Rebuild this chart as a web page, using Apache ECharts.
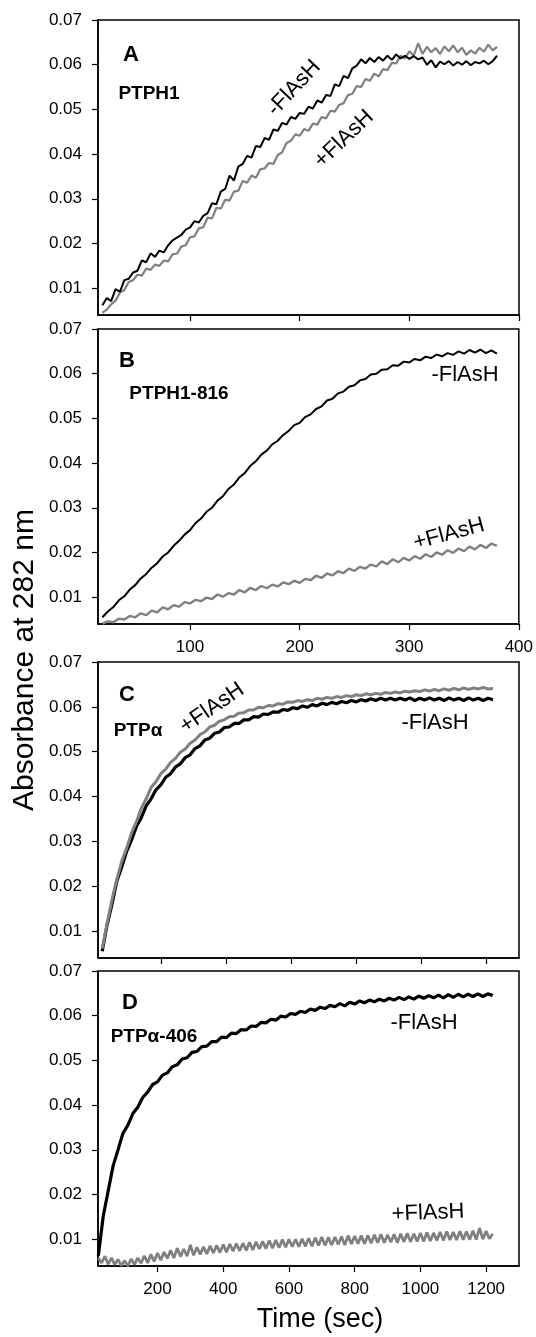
<!DOCTYPE html>
<html><head><meta charset="utf-8">
<script src="https://cdn.jsdelivr.net/npm/echarts@6/dist/echarts.min.js"></script>
<style>html,body{margin:0;padding:0;background:#fff}#c{width:536px;height:1337px}</style>
</head><body><div id="c"></div>
<script>
// ---------- data ----------
const yTicks = [0.01, 0.02, 0.03, 0.04, 0.05, 0.06, 0.07];
const xTicksAB = [100, 200, 300, 400];
const xTicksCD = [200, 400, 600, 800, 1000, 1200];

// Panel A  (PTPH1)
const timeA = [20,24,28,32,36,40,44,48,52,56,
  60,64,68,72,76,80,84,88,92,96,
  100,104,108,112,116,120,124,128,132,136,
  140,144,148,152,156,160,164,168,172,176,
  180,184,188,192,196,200,204,208,212,216,
  220,224,228,232,236,240,244,248,252,256,
  260,264,268,272,276,280,284,288,292,296,
  300,304,308,312,316,320,324,328,332,336,
  340,344,348,352,356,360,364,368,372,376,
  380];
const aMinusFlAsH = [0.0062,0.0078,0.0071,0.0098,0.0092,0.0118,0.0121,0.0135,0.0139,0.0162,
  0.0158,0.0178,0.0170,0.0184,0.0180,0.0196,0.0207,0.0213,0.0219,0.0231,
  0.0236,0.0250,0.0247,0.0262,0.0268,0.0290,0.0288,0.0316,0.0322,0.0352,
  0.0341,0.0372,0.0378,0.0396,0.0392,0.0418,0.0416,0.0436,0.0432,0.0455,
  0.0452,0.0470,0.0466,0.0483,0.0479,0.0492,0.0490,0.0506,0.0502,0.0520,
  0.0515,0.0532,0.0530,0.0556,0.0552,0.0575,0.0570,0.0592,0.0598,0.0612,
  0.0603,0.0615,0.0606,0.0617,0.0609,0.0620,0.0611,0.0623,0.0614,0.0620,
  0.0613,0.0619,0.0612,0.0616,0.0600,0.0610,0.0594,0.0607,0.0601,0.0608,
  0.0598,0.0606,0.0600,0.0608,0.0599,0.0606,0.0603,0.0609,0.0601,0.0608,
  0.0620];
const aPlusFlAsH = [0.0045,0.0052,0.0064,0.0072,0.0090,0.0096,0.0114,0.0118,0.0130,0.0128,
  0.0144,0.0141,0.0153,0.0150,0.0162,0.0160,0.0176,0.0177,0.0193,0.0196,
  0.0214,0.0216,0.0234,0.0236,0.0258,0.0256,0.0280,0.0278,0.0298,0.0296,
  0.0316,0.0318,0.0340,0.0336,0.0352,0.0347,0.0366,0.0368,0.0380,0.0378,
  0.0398,0.0404,0.0425,0.0430,0.0444,0.0441,0.0456,0.0452,0.0468,0.0466,
  0.0483,0.0480,0.0497,0.0495,0.0510,0.0514,0.0532,0.0535,0.0552,0.0550,
  0.0568,0.0564,0.0580,0.0574,0.0590,0.0588,0.0604,0.0603,0.0620,0.0614,
  0.0630,0.0620,0.0648,0.0624,0.0640,0.0628,0.0637,0.0624,0.0641,0.0630,
  0.0643,0.0628,0.0638,0.0622,0.0632,0.0625,0.0638,0.0629,0.0645,0.0632,
  0.0640];

// Panel B  (PTPH1-816)
const timeB = [20,25,30,35,40,45,50,55,60,65,
  70,75,80,85,90,95,100,105,110,115,
  120,125,130,135,140,145,150,155,160,165,
  170,175,180,185,190,195,200,205,210,215,
  220,225,230,235,240,245,250,255,260,265,
  270,275,280,285,290,295,300,305,310,315,
  320,325,330,335,340,345,350,355,360,365,
  370,375,380];
const bMinusFlAsH = [0.0055,0.0068,0.0078,0.0093,0.0102,0.0117,0.0127,0.0142,0.0152,0.0166,
  0.0176,0.0191,0.0200,0.0215,0.0226,0.0240,0.0250,0.0266,0.0276,0.0291,
  0.0300,0.0316,0.0326,0.0342,0.0352,0.0368,0.0378,0.0394,0.0404,0.0419,
  0.0428,0.0442,0.0450,0.0463,0.0472,0.0485,0.0490,0.0503,0.0509,0.0521,
  0.0527,0.0540,0.0544,0.0556,0.0560,0.0571,0.0574,0.0585,0.0588,0.0598,
  0.0600,0.0609,0.0610,0.0619,0.0618,0.0627,0.0625,0.0633,0.0630,0.0638,
  0.0635,0.0643,0.0639,0.0646,0.0642,0.0650,0.0645,0.0653,0.0647,0.0654,
  0.0646,0.0652,0.0645];
const bPlusFlAsH = [0.0041,0.0046,0.0044,0.0052,0.0050,0.0058,0.0055,0.0064,0.0060,0.0070,
  0.0066,0.0077,0.0073,0.0082,0.0079,0.0089,0.0086,0.0094,0.0091,0.0099,
  0.0096,0.0106,0.0101,0.0109,0.0106,0.0116,0.0111,0.0121,0.0116,0.0125,
  0.0120,0.0128,0.0124,0.0133,0.0129,0.0137,0.0132,0.0141,0.0138,0.0148,
  0.0143,0.0153,0.0149,0.0158,0.0154,0.0164,0.0159,0.0168,0.0164,0.0173,
  0.0169,0.0180,0.0174,0.0185,0.0178,0.0188,0.0182,0.0192,0.0186,0.0196,
  0.0190,0.0200,0.0195,0.0205,0.0199,0.0209,0.0203,0.0213,0.0207,0.0217,
  0.0210,0.0220,0.0215];

// Panels C and D (shared 15 s grid)
const timeCD = [20,35,50,65,80,95,110,125,140,155,
  170,185,200,215,230,245,260,275,290,305,
  320,335,350,365,380,395,410,425,440,455,
  470,485,500,515,530,545,560,575,590,605,
  620,635,650,665,680,695,710,725,740,755,
  770,785,800,815,830,845,860,875,890,905,
  920,935,950,965,980,995,1010,1025,1040,1055,
  1070,1085,1100,1115,1130,1145,1160,1175,1190,1205,
  1220];
const cMinusFlAsH = [0.0055,0.0114,0.0160,0.0212,0.0243,0.0278,0.0303,0.0333,0.0353,0.0379,
  0.0395,0.0415,0.0426,0.0443,0.0451,0.0466,0.0473,0.0487,0.0493,0.0507,
  0.0513,0.0526,0.0530,0.0541,0.0544,0.0554,0.0555,0.0563,0.0563,0.0571,
  0.0571,0.0578,0.0577,0.0584,0.0583,0.0589,0.0588,0.0594,0.0592,0.0598,
  0.0596,0.0602,0.0599,0.0605,0.0602,0.0608,0.0605,0.0610,0.0607,0.0612,
  0.0609,0.0614,0.0611,0.0616,0.0613,0.0618,0.0614,0.0619,0.0615,0.0619,
  0.0615,0.0619,0.0615,0.0620,0.0614,0.0619,0.0615,0.0620,0.0615,0.0619,
  0.0614,0.0620,0.0615,0.0619,0.0614,0.0620,0.0615,0.0619,0.0614,0.0619,
  0.0616];
const cPlusFlAsH = [0.0061,0.0117,0.0170,0.0216,0.0256,0.0285,0.0319,0.0344,0.0374,0.0395,
  0.0420,0.0433,0.0451,0.0461,0.0476,0.0485,0.0499,0.0506,0.0519,0.0526,
  0.0538,0.0544,0.0555,0.0559,0.0568,0.0571,0.0578,0.0579,0.0586,0.0587,
  0.0593,0.0593,0.0599,0.0598,0.0603,0.0602,0.0607,0.0606,0.0611,0.0610,
  0.0614,0.0612,0.0616,0.0614,0.0619,0.0617,0.0621,0.0619,0.0623,0.0621,
  0.0625,0.0623,0.0627,0.0625,0.0629,0.0627,0.0630,0.0628,0.0632,0.0630,
  0.0633,0.0631,0.0635,0.0633,0.0636,0.0634,0.0638,0.0635,0.0639,0.0636,
  0.0640,0.0637,0.0641,0.0638,0.0642,0.0639,0.0642,0.0640,0.0643,0.0640,
  0.0641];
const dMinusFlAsH = [0.0063,0.0152,0.0208,0.0264,0.0300,0.0337,0.0355,0.0381,0.0395,0.0417,
  0.0429,0.0446,0.0452,0.0467,0.0472,0.0486,0.0490,0.0503,0.0506,0.0518,
  0.0520,0.0531,0.0532,0.0542,0.0542,0.0552,0.0551,0.0561,0.0560,0.0569,
  0.0568,0.0577,0.0576,0.0585,0.0584,0.0592,0.0590,0.0599,0.0597,0.0605,
  0.0603,0.0610,0.0607,0.0615,0.0612,0.0619,0.0616,0.0623,0.0620,0.0627,
  0.0622,0.0630,0.0626,0.0633,0.0629,0.0635,0.0631,0.0637,0.0633,0.0639,
  0.0635,0.0641,0.0636,0.0642,0.0637,0.0644,0.0639,0.0645,0.0640,0.0646,
  0.0640,0.0647,0.0641,0.0648,0.0642,0.0648,0.0643,0.0649,0.0643,0.0649,
  0.0645];

// Panel D +FlAsH (10 s grid)
const timeDplus = [20,30,40,50,60,70,80,90,100,110,
  120,130,140,150,160,170,180,190,200,210,
  220,230,240,250,260,270,280,290,300,310,
  320,330,340,350,360,370,380,390,400,410,
  420,430,440,450,460,470,480,490,500,510,
  520,530,540,550,560,570,580,590,600,610,
  620,630,640,650,660,670,680,690,700,710,
  720,730,740,750,760,770,780,790,800,810,
  820,830,840,850,860,870,880,890,900,910,
  920,930,940,950,960,970,980,990,1000,1010,
  1020,1030,1040,1050,1060,1070,1080,1090,1100,1110,
  1120,1130,1140,1150,1160,1170,1180,1190,1200,1210,
  1220];
const dPlusFlAsH = [0.0058,0.0047,0.0062,0.0044,0.0058,0.0043,0.0055,0.0041,0.0052,0.0040,
  0.0056,0.0043,0.0058,0.0046,0.0063,0.0047,0.0066,0.0050,0.0069,0.0053,
  0.0071,0.0057,0.0075,0.0058,0.0080,0.0061,0.0078,0.0062,0.0087,0.0064,
  0.0082,0.0066,0.0083,0.0067,0.0085,0.0069,0.0086,0.0070,0.0088,0.0071,
  0.0089,0.0073,0.0090,0.0074,0.0091,0.0075,0.0093,0.0076,0.0094,0.0078,
  0.0095,0.0079,0.0097,0.0080,0.0098,0.0081,0.0099,0.0082,0.0100,0.0083,
  0.0100,0.0083,0.0101,0.0084,0.0102,0.0084,0.0103,0.0086,0.0105,0.0086,
  0.0104,0.0087,0.0105,0.0088,0.0106,0.0087,0.0108,0.0089,0.0107,0.0090,
  0.0108,0.0090,0.0109,0.0091,0.0110,0.0092,0.0111,0.0092,0.0110,0.0093,
  0.0111,0.0092,0.0112,0.0094,0.0113,0.0094,0.0112,0.0095,0.0114,0.0095,
  0.0115,0.0096,0.0114,0.0097,0.0116,0.0097,0.0117,0.0098,0.0116,0.0098,
  0.0118,0.0099,0.0117,0.0099,0.0119,0.0099,0.0125,0.0100,0.0118,0.0101,
  0.0112];

// ---------- chart ----------
const FONT = '"Liberation Sans", Arial, Helvetica, sans-serif';
const BLACK = '#000000', GRAY = '#808080';
const zip = (t, v) => t.map((x, i) => [x, v[i]]);

const panels = [
  {top: 20,  height: 295, xmin: 16, xmax: 400,  xt: xTicksAB, xl: false},
  {top: 329, height: 295, xmin: 16, xmax: 400,  xt: xTicksAB, xl: true},
  {top: 662, height: 296, xmin: 7,  xmax: 1300, xt: xTicksCD, xl: false},
  {top: 971, height: 295, xmin: 19, xmax: 1300, xt: xTicksCD, xl: true}
];

const grid = panels.map(p => ({
  left: 98, right: 17, top: p.top, height: p.height,
  show: true, borderColor: BLACK, borderWidth: 1.5, backgroundColor: 'transparent'
}));
const xAxis = panels.map((p, i) => ({
  gridIndex: i, type: 'value', min: p.xmin, max: p.xmax,
  axisLine: {show: true, onZero: false, lineStyle: {color: BLACK, width: 1.5}},
  axisTick: {show: true, inside: false, length: 6, customValues: p.xt, lineStyle: {color: BLACK, width: 1.2}},
  axisLabel: {show: p.xl, customValues: p.xt, margin: 15, fontSize: 17, color: BLACK, fontFamily: FONT,
    hideOverlap: false, formatter: v => String(v)},
  splitLine: {show: false}
}));
const yAxis = panels.map((p, i) => ({
  gridIndex: i, type: 'value', min: 0.004, max: 0.07,
  axisLine: {show: true, onZero: false, lineStyle: {color: BLACK, width: 1.5}},
  axisTick: {show: true, inside: false, length: 6, customValues: yTicks, lineStyle: {color: BLACK, width: 1.2}},
  axisLabel: {show: true, customValues: yTicks, margin: 16, fontSize: 17, color: BLACK, fontFamily: FONT,
    hideOverlap: false, formatter: v => v.toFixed(2)},
  splitLine: {show: false}
}));

const line = (i, t, v, color, width, z) => ({
  type: 'line', xAxisIndex: i, yAxisIndex: i, data: zip(t, v),
  showSymbol: false, symbol: 'none', clip: true, z: z, silent: true,
  lineStyle: {color: color, width: width}
});

const series = [
  line(0, timeA, aPlusFlAsH, GRAY, 2.2, 2),
  line(0, timeA, aMinusFlAsH, BLACK, 2, 3),
  line(1, timeB, bMinusFlAsH, BLACK, 2, 3),
  line(1, timeB, bPlusFlAsH, GRAY, 2.4, 2),
  line(2, timeCD, cMinusFlAsH, BLACK, 3.2, 2),
  line(2, timeCD, cPlusFlAsH, GRAY, 3, 3),
  line(3, timeCD, dMinusFlAsH, BLACK, 3.2, 3),
  line(3, timeDplus, dPlusFlAsH, GRAY, 2.8, 2)
];

const txt = (s, x, y, size, bold, rot) => ({
  type: 'text', x: x, y: y, rotation: rot || 0, z: 100,
  style: {text: s, font: (bold ? 'bold ' : '') + size + 'px ' + FONT, fill: BLACK,
    textAlign: 'center', textVerticalAlign: 'middle', align: 'center', verticalAlign: 'middle'}
});

const graphic = [
  txt('A', 131, 55, 22, true),
  txt('PTPH1', 149, 94, 19, true),
  txt('-FlAsH', 294, 88, 22, false, 0.82),
  txt('+FlAsH', 344, 139, 22, false, 0.76),
  txt('B', 127, 361, 22, true),
  txt('PTPH1-816', 179, 394, 19, true),
  txt('-FlAsH', 465, 375, 22, false),
  txt('+FlAsH', 449, 534, 22, false, 0.26),
  txt('C', 127, 695, 22, true),
  txt('PTP\u03b1', 138, 731, 19, true),
  txt('+FlAsH', 212, 708, 22, false, 0.6),
  txt('-FlAsH', 435, 723, 22, false),
  txt('D', 130, 1003, 22, true),
  txt('PTP\u03b1-406', 154, 1037, 19, true),
  txt('-FlAsH', 424, 1023, 22, false),
  txt('+FlAsH', 428, 1213, 22, false, 0.04),
  txt('Absorbance at 282 nm', 25, 660, 30, false, Math.PI / 2),
  txt('Time (sec)', 320, 1320, 27, false)
];

const chart = echarts.init(document.getElementById('c'), null, {renderer: 'canvas'});
chart.setOption({
  animation: false,
  backgroundColor: '#ffffff',
  grid: grid, xAxis: xAxis, yAxis: yAxis, series: series, graphic: graphic
});
</script></body></html>
